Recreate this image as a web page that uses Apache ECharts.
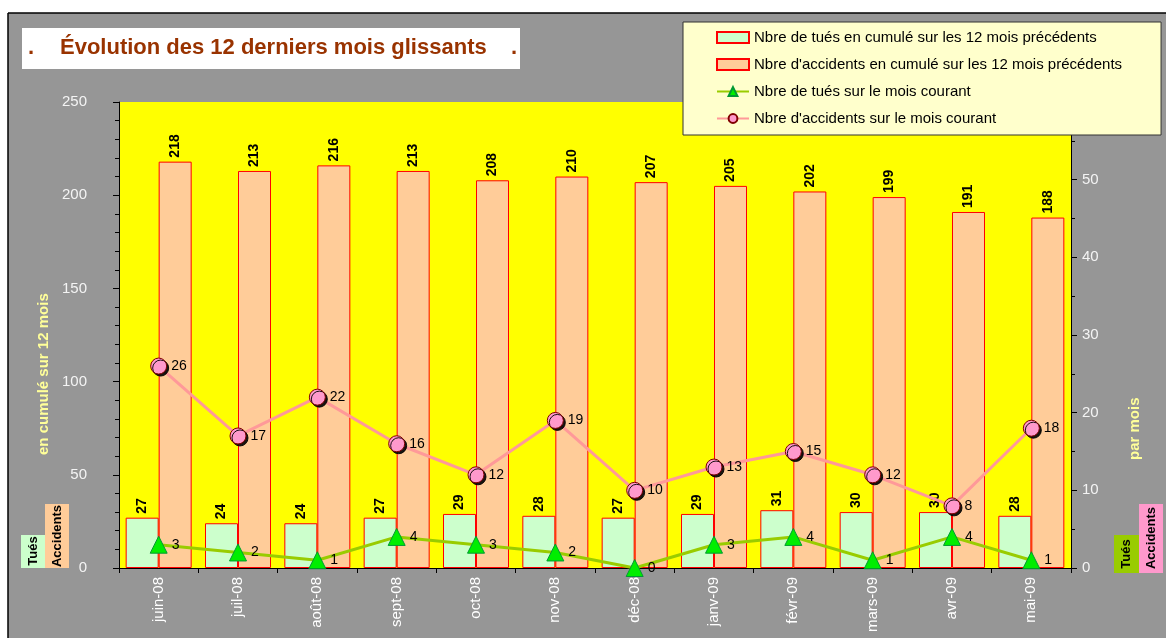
<!DOCTYPE html>
<html>
<head>
<meta charset="utf-8">
<script src="https://cdn.jsdelivr.net/npm/echarts@6/dist/echarts.min.js"></script>
<style>
  html, body { margin: 0; padding: 0; background: #fff; }
  #chart { width: 1166px; height: 638px; }
</style>
</head>
<body>
<div id="chart"></div>
<script>
// months shown on the x axis
var mois = ['juin-08', 'juil-08', 'août-08', 'sept-08', 'oct-08', 'nov-08',
            'déc-08', 'janv-09', 'févr-09', 'mars-09', 'avr-09', 'mai-09'];

// cumul sur 12 mois (axe de gauche)
var tuesCumul = [27, 24, 24, 27, 29, 28, 27, 29, 31, 30, 30, 28];
var accidentsCumul = [218, 213, 216, 213, 208, 210, 207, 205, 202, 199, 191, 188];

// mois courant (axe de droite)
var tuesMois = [3, 2, 1, 4, 3, 2, 0, 3, 4, 1, 4, 1];
var accidentsMois = [26, 17, 22, 16, 12, 19, 10, 13, 15, 12, 8, 18];

var FONT = '"Liberation Sans", Arial, sans-serif';

var barLabel = {
    show: true,
    position: 'top',
    rotate: 90,
    align: 'left',
    verticalAlign: 'middle',
    distance: 4,
    color: '#000',
    fontWeight: 'bold',
    fontSize: 14,
    fontFamily: FONT
};
var lineLabel = {
    show: true,
    position: 'right',
    distance: 4,
    color: '#000',
    fontSize: 14,
    fontFamily: FONT
};

function vText(x, y, txt, color, size, bold, align) {
    return {
        type: 'text',
        x: x, y: y,
        rotation: Math.PI / 2,
        z: 20,
        style: {
            text: txt,
            fill: color,
            font: (bold ? 'bold ' : '') + size + 'px ' + FONT,
            textAlign: align || 'center',
            textVerticalAlign: 'middle'
        }
    };
}
function box(x, y, w, h, fill) {
    return { type: 'rect', z: 19, shape: { x: x, y: y, width: w, height: h }, style: { fill: fill } };
}

var option = {
    backgroundColor: '#969696',
    animation: false,
    textStyle: { fontFamily: FONT },
    grid: {
        left: 119, right: 95, top: 102, bottom: 70,
        show: true,
        backgroundColor: '#FFFF00',
        borderWidth: 0
    },
    legend: {
        orient: 'vertical',
        left: 683, top: 22,
        padding: [8, 39, 9, 33],
        itemWidth: 32, itemHeight: 11,
        itemGap: 12,
        backgroundColor: '#FFFFCC',
        borderColor: '#333',
        borderWidth: 1,
        textStyle: { color: '#000', fontSize: 15, fontFamily: FONT },
        data: [{ name: 'Nbre de tués en cumulé sur les 12 mois précédents', icon: 'rect' },
               { name: "Nbre d'accidents en cumulé sur les 12 mois précédents", icon: 'rect' },
               'Nbre de tués sur le mois courant',
               "Nbre d'accidents sur le mois courant"]
    },
    xAxis: {
        type: 'category',
        data: mois,
        axisLine: { lineStyle: { color: '#000', width: 1 } },
        axisTick: { show: true, length: 5, lineStyle: { color: '#000' } },
        axisLabel: { rotate: 90, color: '#fff', fontSize: 15, margin: 9, fontFamily: FONT }
    },
    yAxis: [{
        type: 'value',
        min: 0, max: 250, interval: 50,
        axisLine: { show: true, lineStyle: { color: '#000' } },
        axisTick: { show: true, length: 6, lineStyle: { color: '#000' } },
        minorTick: { show: true, splitNumber: 5, length: 4, lineStyle: { color: '#000' } },
        splitLine: { show: false },
        axisLabel: { color: '#f4f4f4', fontSize: 15, margin: 32, fontFamily: FONT }
    }, {
        type: 'value',
        min: 0, max: 60, interval: 10,
        position: 'right',
        axisLine: { show: true, lineStyle: { color: '#000' } },
        axisTick: { show: true, length: 6, lineStyle: { color: '#000' } },
        minorTick: { show: true, splitNumber: 2, length: 4, lineStyle: { color: '#000' } },
        splitLine: { show: false },
        axisLabel: { color: '#f4f4f4', fontSize: 15, margin: 11, fontFamily: FONT }
    }],
    series: [{
        name: 'Nbre de tués en cumulé sur les 12 mois précédents',
        type: 'bar',
        yAxisIndex: 0,
        data: tuesCumul,
        barWidth: 33,
        barGap: '0%',
        itemStyle: { color: '#CCFFCC', borderColor: '#FF0000', borderWidth: 1 },
        label: barLabel
    }, {
        name: "Nbre d'accidents en cumulé sur les 12 mois précédents",
        type: 'bar',
        yAxisIndex: 0,
        data: accidentsCumul,
        barWidth: 33,
        barGap: '0%',
        itemStyle: { color: '#FFCC99', borderColor: '#FF0000', borderWidth: 1 },
        label: barLabel
    }, {
        name: 'Nbre de tués sur le mois courant',
        type: 'line',
        yAxisIndex: 1,
        data: tuesMois,
        symbol: 'triangle',
        symbolSize: 17,
        lineStyle: { color: '#99CC00', width: 3 },
        itemStyle: { color: '#00EE00', borderColor: '#009933', borderWidth: 1 },
        label: lineLabel,
        z: 5
    }, {
        name: "Nbre d'accidents sur le mois courant",
        type: 'line',
        yAxisIndex: 1,
        data: accidentsMois,
        symbol: 'circle',
        symbolSize: 16,
        lineStyle: { color: '#FF9999', width: 3 },
        itemStyle: {
            color: '#FF99CC', borderColor: '#800000', borderWidth: 1,
            shadowColor: 'rgba(0,0,0,0.9)', shadowOffsetX: 2, shadowOffsetY: 2
        },
        label: lineLabel,
        z: 5
    }],
    graphic: [
        // white margin + black frame
        { type: 'rect', z: 30, shape: { x: 0, y: 0, width: 1166, height: 13 }, style: { fill: '#fff' } },
        { type: 'rect', z: 30, shape: { x: 0, y: 0, width: 8, height: 638 }, style: { fill: '#fff' } },
        { type: 'line', z: 31, shape: { x1: 8, y1: 13, x2: 1166, y2: 13 }, style: { stroke: '#000', lineWidth: 1.5 } },
        { type: 'line', z: 31, shape: { x1: 8, y1: 13, x2: 8, y2: 638 }, style: { stroke: '#000', lineWidth: 1.5 } },
        // title
        { type: 'rect', z: 20, shape: { x: 22, y: 28, width: 498, height: 41 }, style: { fill: '#fff' } },
        { type: 'text', z: 21, x: 28, y: 48, style: { text: '.', fill: '#993300', font: 'bold 22px ' + FONT, textVerticalAlign: 'middle' } },
        { type: 'text', z: 21, x: 60, y: 48, style: { text: 'Évolution des 12 derniers mois glissants', fill: '#993300', font: 'bold 22px ' + FONT, textVerticalAlign: 'middle' } },
        { type: 'text', z: 21, x: 511, y: 48, style: { text: '.', fill: '#993300', font: 'bold 22px ' + FONT, textVerticalAlign: 'middle' } },
        // axis names
        vText(44, 455, 'en cumulé sur 12 mois', '#FFFF99', 15, true, 'left'),
        vText(1135, 460, 'par mois', '#FFFF99', 15, true, 'left'),
        // left tags
        box(21, 535, 24, 33, '#CCFFCC'),
        vText(33, 551, 'Tués', '#000', 13, true),
        box(45, 504, 24, 64, '#FFCC99'),
        vText(57, 536, 'Accidents', '#000', 13, true),
        // right tags
        box(1114, 535, 25, 38, '#99CC00'),
        vText(1126, 554, 'Tués', '#000', 13, true),
        box(1139, 504, 24, 69, '#FF99CC'),
        vText(1151, 538, 'Accidents', '#000', 13, true)
    ]
};

var chart = echarts.init(document.getElementById('chart'));
chart.setOption(option);
</script>
</body>
</html>
